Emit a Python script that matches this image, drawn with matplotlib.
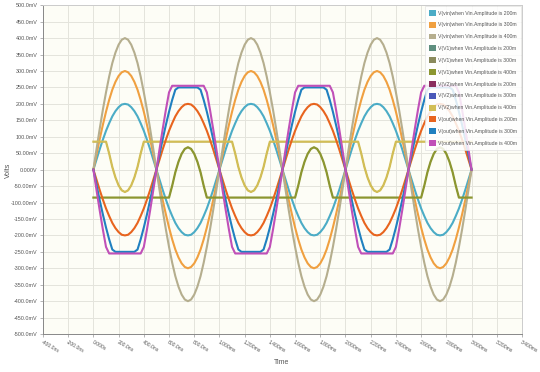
import numpy as np
import matplotlib
matplotlib.use("Agg")
import matplotlib.pyplot as plt
from matplotlib.patches import Patch

plt.rcParams['font.family'] = ['Liberation Sans', 'DejaVu Sans']

# time samples (ns), 25 ns step over 3 periods of 1000 ns
t = np.arange(0, 3001, 25)

# one period of each waveform (mV), read every 25 ns
vin200 = [0, 31, 62, 91, 118, 141, 162, 178, 190, 198, 200, 198, 190, 178, 162, 141, 118, 91, 62, 31,
          0, -31, -62, -91, -118, -141, -162, -178, -190, -198, -200, -198, -190, -178, -162, -141, -118, -91, -62, -31]
vin300 = [0, 47, 93, 136, 176, 212, 243, 267, 285, 296, 300, 296, 285, 267, 243, 212, 176, 136, 93, 47,
          0, -47, -93, -136, -176, -212, -243, -267, -285, -296, -300, -296, -285, -267, -243, -212, -176, -136, -93, -47]
vin400 = [0, 63, 124, 182, 235, 283, 324, 356, 380, 395, 400, 395, 380, 356, 324, 283, 235, 182, 124, 63,
          0, -63, -124, -182, -235, -283, -324, -356, -380, -395, -400, -395, -380, -356, -324, -283, -235, -182, -124, -63]
v1_400 = [-85, -85, -85, -85, -85, -85, -85, -85, -85, -85, -85, -85, -85, -85, -85, -85, -85, -85, -85, -85,
          -85, -85, -85, -85, -85, -49, -8, 24, 48, 63, 68, 63, 48, 24, -8, -49, -85, -85, -85, -85]
v2_400 = [85, 85, 85, 85, 85, 49, 8, -24, -48, -63, -68, -63, -48, -24, 8, 49, 85, 85, 85, 85,
          85, 85, 85, 85, 85, 85, 85, 85, 85, 85, 85, 85, 85, 85, 85, 85, 85, 85, 85, 85]
out200 = [0, -31, -62, -91, -118, -141, -162, -178, -190, -198, -200, -198, -190, -178, -162, -141, -118, -91, -62, -31,
          0, 31, 62, 91, 118, 141, 162, 178, 190, 198, 200, 198, 190, 178, 162, 141, 118, 91, 62, 31]
out300 = [0, -47, -93, -136, -176, -212, -243, -250, -250, -250, -250, -250, -250, -250, -243, -212, -176, -136, -93, -47,
          0, 47, 93, 136, 176, 212, 243, 250, 250, 250, 250, 250, 250, 250, 243, 212, 176, 136, 93, 47]
out400 = [0, -63, -124, -182, -235, -255, -255, -255, -255, -255, -255, -255, -255, -255, -255, -255, -235, -182, -124, -63,
          0, 63, 124, 182, 235, 255, 255, 255, 255, 255, 255, 255, 255, 255, 255, 255, 235, 182, 124, 63]


def full(period):
    return np.array(period * 3 + [period[0]])


labels = ["V(vin)when Vin.Amplitude is 200m", "V(vin)when Vin.Amplitude is 300m",
          "V(vin)when Vin.Amplitude is 400m", "V(V1)when Vin.Amplitude is 200m",
          "V(V1)when Vin.Amplitude is 300m", "V(V1)when Vin.Amplitude is 400m",
          "V(V2)when Vin.Amplitude is 200m", "V(V2)when Vin.Amplitude is 300m",
          "V(V2)when Vin.Amplitude is 400m", "V(out)when Vin.Amplitude is 200m",
          "V(out)when Vin.Amplitude is 300m", "V(out)when Vin.Amplitude is 400m"]
series = [vin200, vin300, vin400, v1_400, v1_400, v1_400,
          v2_400, v2_400, v2_400, out200, out300, out400]
colors = ["#4BACC6", "#F0A040", "#B5AE8E", "#5E8E7E", "#8A8A5C", "#8C9630",
          "#8B2E5E", "#4A58B8", "#D2BE55", "#E8641E", "#2080C0", "#C050B8"]
# V1/V2 traces of the 200m and 300m runs lie under the 400m ones
widths = [1.5, 1.5, 1.5, 0.6, 0.6, 1.6, 0.6, 0.6, 1.6, 1.5, 1.5, 1.5]

xticks = list(range(-400, 3401, 200))
xlabels = ["-400.0ns", "-200.0ns", "0.000s", "200.0ns", "400.0ns", "600.0ns", "800.0ns",
           "1.000ms", "1.200ms", "1.400ms", "1.600ms", "1.800ms", "2.000ms", "2.200ms",
           "2.400ms", "2.600ms", "2.800ms", "3.000ms", "3.200ms", "3.400ms"]
yticks = list(range(-500, 501, 50))
ylabels = ["-500.0mV", "-450.0mV", "-400.0mV", "-350.0mV", "-300.0mV", "-250.0mV", "-200.0mV",
           "-150.0mV", "-100.00mV", "-50.00mV", "0.000V", "50.00mV", "100.0mV", "150.0mV",
           "200.0mV", "250.0mV", "300.0mV", "350.0mV", "400.0mV", "450.0mV", "500.0mV"]

fig = plt.figure(figsize=(5.4, 3.72), dpi=100)
ax = fig.add_axes([0.0796, 0.102, 0.887, 0.884])
ax.set_facecolor("#FDFDF6")

for vals, c, lab, w in zip(series, colors, labels, widths):
    ax.plot(t, full(vals), color=c, lw=w, label=lab, solid_joinstyle="round")

ax.set_xlim(-400, 3400)
ax.set_ylim(-500, 500)
ax.set_xticks(xticks)
ax.set_xticklabels(xlabels, rotation=-30, ha="left", va="top", rotation_mode="anchor",
                   fontsize=3.6, color="#555555")
ax.set_yticks(yticks)
ax.set_yticklabels(ylabels, fontsize=3.9, color="#555555")
ax.tick_params(length=2, width=0.5, color="#999999", pad=2)
ax.grid(True, color="#E4E4DC", lw=0.7)
ax.set_axisbelow(True)
for s in ["top", "right"]:
    ax.spines[s].set_color("#CCCCCC")
for s in ["left", "bottom"]:
    ax.spines[s].set_color("#888888")
for s in ax.spines.values():
    s.set_linewidth(0.7)

fig.text(8 / 540, 1 - 170 / 372, "Volts", rotation=90, fontsize=5, color="#555555",
         ha="center", va="center")
fig.text(282 / 540, 1 - 362 / 372, "Time", fontsize=5, color="#555555",
         ha="center", va="center")

handles = [Patch(facecolor=c, edgecolor="none", label=lab) for c, lab in zip(colors, labels)]
leg = ax.legend(handles=handles, loc="upper right", borderaxespad=0.1, fontsize=3.7,
                handlelength=1.4, handleheight=1.4, handletextpad=0.4, labelspacing=1.15,
                frameon=True, fancybox=False, framealpha=0.85, borderpad=0.8)
leg.get_frame().set_edgecolor("#DDDDDD")
leg.get_frame().set_linewidth(0.5)
for txt in leg.get_texts():
    txt.set_color("#555555")

fig.savefig("out.png", dpi=100)
